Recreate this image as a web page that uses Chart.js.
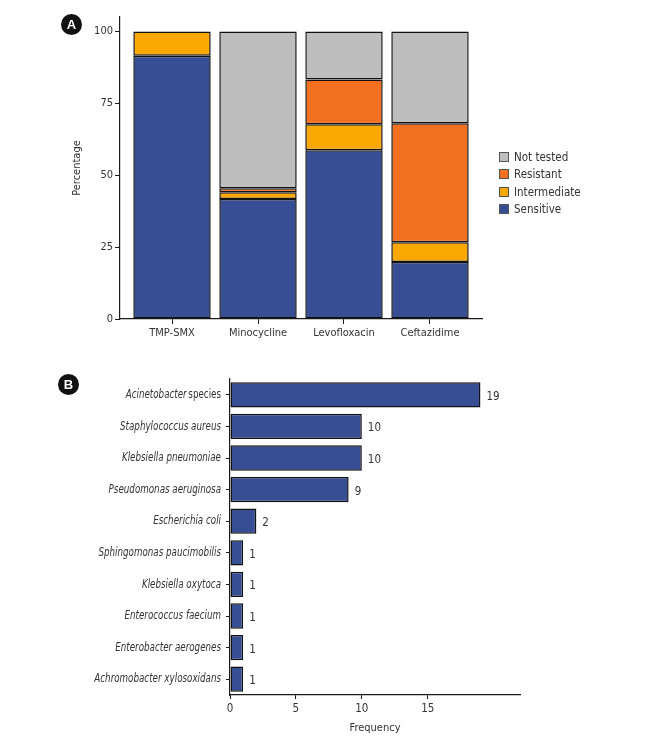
<!DOCTYPE html>
<html><head><meta charset="utf-8">
<script src="https://cdn.jsdelivr.net/npm/chart.js@4"></script>
<style>
body{margin:0;background:#fff;width:655px;height:746px;position:relative;overflow:hidden;font-family:"Liberation Sans Narrow","DejaVu Sans Condensed","Roboto Condensed","Liberation Sans",sans-serif;}
#wa{position:absolute;left:0;top:0;width:655px;height:345px}
#wb{position:absolute;left:0;top:345px;width:655px;height:401px}
.badge{position:absolute;width:21px;height:21px;border-radius:50%;background:#111;color:#fff;font:bold 13px "Liberation Sans",Arial,sans-serif;text-align:center;line-height:21px}
#legend{position:absolute;left:499px;top:148px;font-size:11.5px;color:#333}
.li{height:17.5px;display:flex;align-items:center}
.sw{width:10px;height:10px;border:1px solid #555;margin-right:5px;box-sizing:border-box}
</style></head><body>
<div id="wa"><canvas id="ca"></canvas></div>
<div id="wb"><canvas id="cb"></canvas></div>
<div class="badge" style="left:61px;top:14px">A</div>
<div class="badge" style="left:58px;top:374px">B</div>
<div id="legend"></div>
<script>
const drugs = ['TMP-SMX','Minocycline','Levofloxacin','Ceftazidime'];
const sensitive = [91.5, 41.7, 58.7, 19.8];
const intermediate = [8.5, 2.4, 9.0, 6.9];
const resistant = [null, 1.4, 15.6, 41.4];
const notTested = [null, 54.5, 16.7, 31.9];
const seriesNames = ['Sensitive','Intermediate','Resistant','Not tested'];
const seriesColors = ['#374d94','#fba800','#f37021','#bebebe'];
const percentTicks = [0,25,50,75,100];

const organisms = ['Acinetobacter species','Staphylococcus aureus','Klebsiella pneumoniae','Pseudomonas aeruginosa','Escherichia coli','Sphingomonas paucimobilis','Klebsiella oxytoca','Enterococcus faecium','Enterobacter aerogenes','Achromobacter xylosoxidans'];
const frequency = [19,10,10,9,2,1,1,1,1,1];
const freqTicks = [0,5,10,15];

const FONT = '"Liberation Sans Narrow","DejaVu Sans Condensed","Roboto Condensed","Liberation Sans",sans-serif';
const TXT = '#333';
const AX = '#1a1a1a';
Chart.defaults.font.family = FONT;
Chart.defaults.font.size = 11;
Chart.defaults.color = TXT;
Chart.defaults.animation = false;

// Panel A
const seriesData = [sensitive, intermediate, resistant, notTested];
new Chart(document.getElementById('ca'), {
  type: 'bar',
  data: {
    datasets: seriesData.map((arr, k) => ({
      label: seriesNames[k],
      data: arr.map((v, i) => ({x: i, y: v})),
      backgroundColor: seriesColors[k],
      borderColor: '#111',
      borderWidth: 1.5,
      borderSkipped: false,
      barPercentage: 0.9,
      categoryPercentage: 1
    }))
  },
  options: {
    responsive: true, maintainAspectRatio: false,
    layout: {padding: {top: 17, right: 173, left: 0, bottom: 0}},
    plugins: {legend: {display: false}, tooltip: {enabled: false}},
    scales: {
      x: {
        type: 'linear', min: -0.6047, max: 3.6047, stacked: true, offset: false,
        afterBuildTicks: s => { s.ticks = drugs.map((d, i) => ({value: i})); },
        afterFit: s => { s.height = 26; },
        grid: {display: true, offset: false, drawOnChartArea: false, drawTicks: true, tickLength: 5, color: AX, lineWidth: 1},
        border: {display: true, color: AX, width: 1.2},
        ticks: {autoSkip: false, maxRotation: 0, padding: 3, color: TXT, callback: v => drugs[v] ?? ''}
      },
      y: {
        min: 0, max: 105, stacked: true,
        afterBuildTicks: s => { s.ticks = percentTicks.map(v => ({value: v})); },
        afterFit: s => { s.width = 120; },
        grid: {display: true, offset: false, drawOnChartArea: false, drawTicks: true, tickLength: 5, color: AX, lineWidth: 1},
        border: {display: true, color: AX, width: 1.2},
        ticks: {padding: 2, color: TXT},
        title: {display: true, text: 'Percentage', color: TXT, font: {size: 11}, padding: {top: 71, bottom: 0}}
      }
    }
  }
});

// Legend (reverse order, as in reference)
const lg = document.getElementById('legend');
for (let k = seriesNames.length - 1; k >= 0; k--) {
  const row = document.createElement('div'); row.className = 'li';
  const sw = document.createElement('span'); sw.className = 'sw'; sw.style.background = seriesColors[k];
  const t = document.createElement('span'); t.textContent = seriesNames[k];
  row.appendChild(sw); row.appendChild(t); lg.appendChild(row);
}

// Panel B
const SQ = 0.81; // horizontal condensing of category labels
const labelPlugin = {
  id: 'labelsB',
  afterDatasetsDraw(chart) {
    const ctx = chart.ctx;
    const meta = chart.getDatasetMeta(0);
    ctx.save();
    ctx.fillStyle = TXT;
    ctx.font = '11.5px ' + FONT;
    ctx.textBaseline = 'middle';
    ctx.textAlign = 'left';
    meta.data.forEach((bar, i) => {
      ctx.fillText(String(frequency[i]), bar.x + 6, bar.y + 2);
    });
    // y category labels (italic names, "species" upright)
    const ys = chart.scales.y;
    const xr = chart.chartArea.left - 9;
    ctx.textAlign = 'right';
    organisms.forEach((name, i) => {
      const y = ys.getPixelForValue(i);
      let italicPart = name, upright = '';
      if (name.endsWith(' species')) { italicPart = name.slice(0, -8); upright = 'species'; }
      ctx.save();
      ctx.translate(xr, y);
      ctx.scale(SQ, 1);
      let x = 0;
      if (upright) {
        ctx.font = '12px ' + FONT;
        ctx.fillText(upright, x, 0);
        x -= ctx.measureText(upright).width + 2;
      }
      ctx.font = 'italic 12px ' + FONT;
      ctx.fillText(italicPart, x, 0);
      ctx.restore();
    });
    ctx.restore();
  }
};

new Chart(document.getElementById('cb'), {
  type: 'bar',
  data: {
    labels: organisms,
    datasets: [{
      label: 'Frequency',
      data: frequency,
      backgroundColor: seriesColors[0],
      borderColor: '#111',
      borderWidth: 1.5,
      borderSkipped: false,
      barPercentage: 0.8,
      categoryPercentage: 1
    }]
  },
  options: {
    indexAxis: 'y',
    responsive: true, maintainAspectRatio: false,
    layout: {padding: {top: 34, right: 135, left: 0, bottom: 0}},
    plugins: {legend: {display: false}, tooltip: {enabled: false}},
    scales: {
      x: {
        min: 0, max: 22,
        afterBuildTicks: s => { s.ticks = freqTicks.map(v => ({value: v})); },
        afterFit: s => { s.height = 51; },
        grid: {display: true, offset: false, drawOnChartArea: false, drawTicks: true, tickLength: 4, color: AX},
        border: {display: true, color: AX, width: 1.2},
        ticks: {padding: 3, color: TXT, maxRotation: 0, font: {size: 11.5}},
        title: {display: true, text: 'Frequency', color: TXT, font: {size: 11}, padding: {top: 0, bottom: 11}}
      },
      y: {
        offset: true,
        afterFit: s => { s.width = 230; },
        grid: {display: true, offset: false, drawOnChartArea: false, drawTicks: true, tickLength: 4, color: AX},
        border: {display: true, color: AX, width: 1.2},
        ticks: {display: false}
      }
    }
  },
  plugins: [labelPlugin]
});
</script>
</body></html>
